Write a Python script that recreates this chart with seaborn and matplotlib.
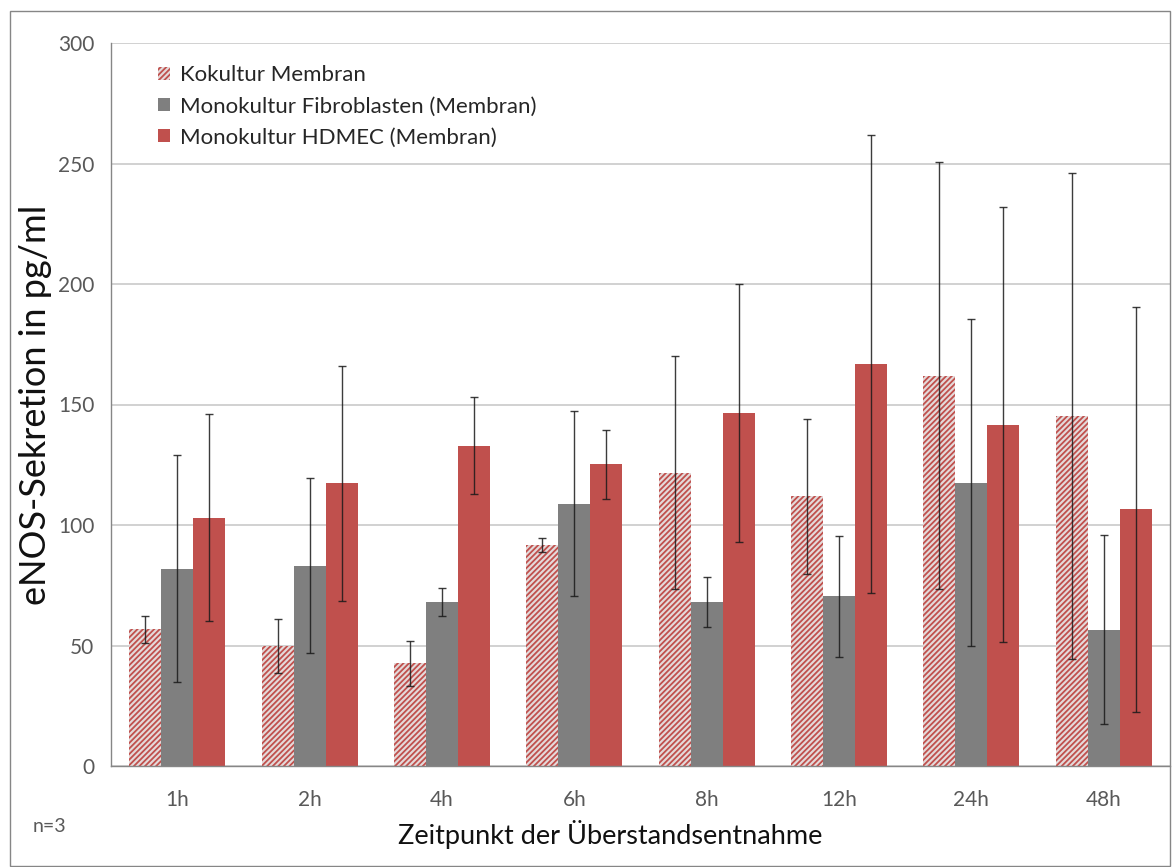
import numpy as np
import pandas as pd
import matplotlib
matplotlib.use("Agg")
import matplotlib.pyplot as plt
from matplotlib.patches import Patch, Rectangle
import seaborn as sns

# Sampling times and mean eNOS secretion (pg/ml) with standard deviations
timepoints = ["1h", "2h", "4h", "6h", "8h", "12h", "24h", "48h"]
series_names = ["Kokultur Membran",
                "Monokultur Fibroblasten (Membran)",
                "Monokultur HDMEC (Membran)"]

kokultur = [56.7, 49.9, 42.6, 91.6, 121.7, 111.9, 162.0, 145.2]
kokultur_sd = [5.7, 11.3, 9.3, 2.9, 48.4, 32.2, 88.5, 101.0]

fibroblasten = [81.8, 83.1, 68.2, 108.9, 68.0, 70.4, 117.6, 56.6]
fibroblasten_sd = [47.1, 36.2, 5.8, 38.5, 10.3, 25.1, 68.0, 39.3]

hdmec = [103.0, 117.3, 132.9, 125.2, 146.6, 166.9, 141.7, 106.5]
hdmec_sd = [43.0, 48.8, 20.2, 14.4, 53.6, 95.0, 90.2, 84.0]

y_ticks = [0, 50, 100, 150, 200, 250, 300]

means = [kokultur, fibroblasten, hdmec]
sds = [kokultur_sd, fibroblasten_sd, hdmec_sd]

df = pd.DataFrame({
    "Zeitpunkt": timepoints * 3,
    "Gruppe": np.repeat(series_names, len(timepoints)),
    "Wert": np.concatenate(means),
})

RED = "#c0504d"
GREY = "#7f7f7f"
AXIS = "#868686"
GRID = "#c9c9c9"
TEXT = "#595959"

sns.set_style("white")
plt.rcParams["font.family"] = ["Lato", "DejaVu Sans"]
plt.rcParams["hatch.linewidth"] = 1.3

fig = plt.figure(figsize=(11.73, 8.67), dpi=100)
ax = fig.add_axes([111 / 1173, 1 - 766 / 867, 1059 / 1173, 723 / 867])

palette = {series_names[0]: "#e4dada", series_names[1]: GREY, series_names[2]: RED}
sns.barplot(data=df, x="Zeitpunkt", y="Wert", hue="Gruppe", order=timepoints,
            hue_order=series_names, palette=palette, errorbar=None,
            width=0.725, saturation=1, linewidth=0, legend=False, ax=ax,
            zorder=2)

# Co-culture bars: red diagonal hatching on a pale ground
for bar in ax.containers[0]:
    bar.set_hatch("//////")
    bar.set_edgecolor(RED)
    bar.set_linewidth(0)

# Standard deviation whiskers centred on each bar
for cont, sd in zip(ax.containers, sds):
    xs = [b.get_x() + b.get_width() / 2 for b in cont]
    hs = [b.get_height() for b in cont]
    ax.errorbar(xs, hs, yerr=sd, fmt="none", ecolor="#1a1a1a", elinewidth=1.0,
                capsize=3, capthick=1.0, alpha=0.85, zorder=4)

ax.set_ylim(0, 300)
ax.set_xlim(-0.5, len(timepoints) - 0.5)
ax.set_yticks(y_ticks)
ax.yaxis.grid(True, color=GRID, linewidth=1.2, zorder=0)
ax.set_axisbelow(True)

ax.set_xticks(range(len(timepoints)))
ax.set_xticklabels(timepoints)
ax.set_xticks(np.arange(-0.5, len(timepoints), 1), minor=True)
ax.tick_params(axis="x", which="major", length=0, pad=17, labelsize=15,
               labelcolor=TEXT)
ax.tick_params(axis="x", which="minor", length=6, width=1, color=AXIS,
               direction="out")
ax.tick_params(axis="y", length=6, width=1, color=AXIS, direction="out",
               pad=6, labelsize=15, labelcolor=TEXT)

for side in ("top", "right"):
    ax.spines[side].set_visible(False)
for side in ("left", "bottom"):
    ax.spines[side].set_color(AXIS)
    ax.spines[side].set_linewidth(1)

ax.set_xlabel("Zeitpunkt der Überstandsentnahme", fontsize=19.5, color="#111111",
              labelpad=7)
ax.xaxis.set_label_coords(499 / 1059, -0.075)
ax.set_ylabel("eNOS-Sekretion in pg/ml", fontsize=26, color="#111111",
              labelpad=4)

handles = [
    Patch(facecolor="#e4dada", edgecolor=RED, hatch="//////", linewidth=0),
    Patch(facecolor=GREY, linewidth=0),
    Patch(facecolor=RED, linewidth=0),
]
ax.legend(handles, series_names, loc="upper left",
          bbox_to_anchor=(47 / 1059, 0.969), borderpad=0, borderaxespad=0,
          frameon=False, fontsize=16, handlelength=0.55, handleheight=0.55,
          handletextpad=0.45, labelspacing=0.5, labelcolor="#262626")

fig.text(33 / 1173, 1 - 826 / 867, "n=3", fontsize=14, color=TEXT,
         va="center", ha="left")

# Outer chart frame
fig.patches.append(Rectangle((10 / 1173, 1 / 867), 1160 / 1173, 855 / 867,
                             transform=fig.transFigure, fill=False,
                             edgecolor=AXIS, linewidth=1))

fig.savefig("out.png", dpi=100)
